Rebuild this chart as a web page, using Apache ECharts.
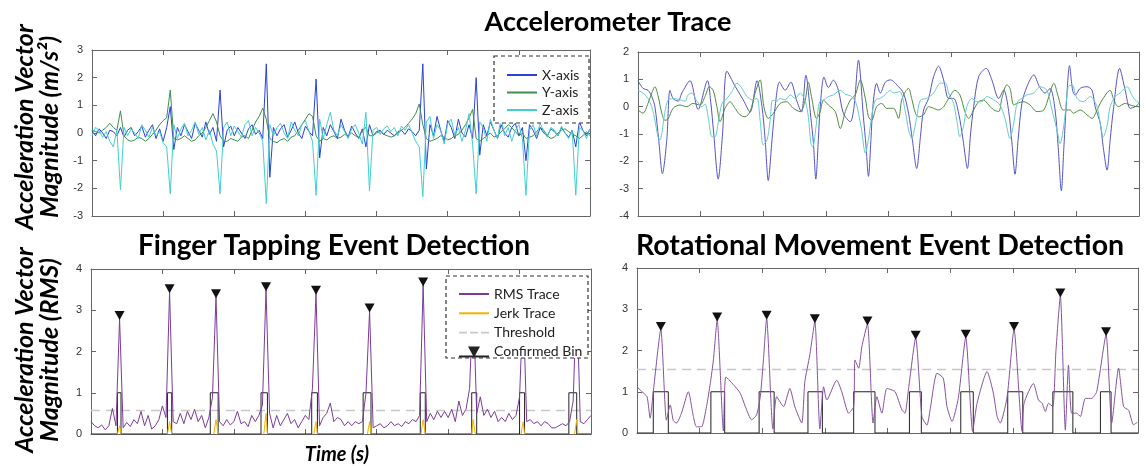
<!DOCTYPE html>
<html>
<head>
  <meta charset="UTF-8">
  <title>Accelerometer Trace</title>
  <script src="https://cdn.jsdelivr.net/npm/echarts@6/dist/echarts.min.js"></script>
  <style>
    html, body { margin: 0; padding: 0; background: #fff; }
    #chart { width: 1146px; height: 466px; }
  </style>
</head>
<body>
<div id="chart"></div>
<script>
  // ---------- top-left: finger tapping raw trace (one sample every 5 time units) ----------
  var tlStep = 5;
  var tlX = [
    0.1, -0.1, 0.15, 0, -0.2, 0.1, 0.05, -0.1, 0.2,
    -0.15, 0.1, 0.2, -0.1, 0.05, 0.25, -0.15, 0.1, 0.3, -0.2, 0.15, -0.3, 0.2,
    0.95, -0.6,
    0.2, -0.1, 0.3, 0.05, -0.2, 0.35, 0.1, -0.15, 0.4, -0.05, 0.2, -0.3,
    1.55, -0.5,
    0.1, 0.25, -0.1, 0.2, 0, -0.2, 0.15, 0.3, -0.05, 0.1, -0.2,
    2.5, -1.6,
    0.2, -0.1, 0.15, 0.3, -0.15, 0.1, 0.4, 0, -0.2, 0.25, 0.05, -0.1,
    1.95, -0.9,
    0.2, -0.1, 0.3, 0.05, -0.2, 0.5, 0.1, -0.15, 0.25, 0, -0.2, 0.15, -0.5,
    0.3,
    -0.1, 0.05, 0.1, -0.05, 0.1, 0, -0.1, 0.05, 0.1, -0.05, 0.15, 0.05, -0.1, 0.1,
    2.5, -1.3,
    0.3, -0.1, 0.6, 0.1, -0.3, 0.45, 0.2, -0.2, 0.5, 0, -0.15, 0.3, -0.2,
    2.0, -0.8,
    0.3, -0.1, 0.4, 0.1, -0.2, 0.3, 0, -0.15, 0.2, 0.35, -0.1, 0.2,
    -1.0,
    0.3, 0.1, -0.2, 0.2, 0, -0.1, 0.15, 0.05, -0.1, 0.2, 0, -0.15, 0.1,
    -0.5,
    0.4, 0.1, -0.1, 0.15
  ];
  var tlY = [
    0.1, 0.05, 0, 0.1, 0.2, 0.35, 0.2, 0.1, 0.8,
    -0.1, -0.25, -0.3, -0.25, -0.15, -0.2, -0.3, -0.2, -0.05, 0.1, 0.3, 0.45, 0.55,
    1.55, -0.2,
    -0.25, -0.2, -0.1, -0.2, -0.3, -0.25, -0.1, 0, 0.2, 0.45, 0.7, 0.4,
    -0.1, -0.3,
    -0.3, -0.2, -0.25, -0.3, -0.15, -0.1, -0.2, 0.1, 0.4, 0.6, 0.9,
    0.5, -0.2,
    -0.3, -0.35, -0.25, -0.2, -0.3, -0.15, -0.1, 0.1, 0.3, 0.5, 0.7, 0.6,
    -0.1, -0.3,
    -0.2, -0.25, -0.15, -0.1, -0.2, -0.15, -0.05, -0.1, 0, -0.1, -0.15, 0.1, 0.2,
    -0.1,
    -0.1, 0, 0.05, -0.05, -0.1, -0.15, -0.1, 0, 0.1, 0.2, 0.35, 0.5, 0.7, 1.05,
    0.3, -0.2,
    -0.3, -0.25, -0.2, -0.1, -0.15, -0.25, -0.2, -0.1, -0.05, 0.1, 0.3, 0.55, 0.85,
    -0.2, -0.3,
    -0.2, -0.1, 0, -0.15, -0.1, 0.05, 0.15, 0.3, 0.2, 0.05, -0.1, 0,
    -0.2,
    -0.15, -0.1, 0.05, 0.2, 0.1, -0.1, -0.2, -0.15, 0, 0.1, 0.15, 0.05, -0.05,
    -0.1,
    -0.2, -0.1, 0.05, -0.1
  ];
  var tlZ = [
    -0.1, 0.2, 0.1, -0.15, 0.05, -0.3, -0.5, 0.1, -2.05,
    0.2, -0.1, 0.15, 0, -0.2, 0.3, 0.1, -0.15, 0.2, -0.1, 0.05, -0.35, -0.5,
    -2.2, 0.3,
    -0.2, 0.15, 0.35, -0.1, 0.1, 0.4, -0.05, 0.2, -0.25, 0.1, -0.4, -0.65,
    -2.2, 0.2,
    0.4, -0.1, 0.25, 0.05, -0.15, 0.3, 0.45, -0.1, 0.2, 0, -0.3,
    -2.55, 0.3,
    -0.1, 0.2, 0.35, 0, -0.2, 0.4, 0.1, -0.1, 0.3, 0.45, 0.05, -0.3,
    -2.25, 0.5,
    -0.2, 0.3, 0.75, 0.1, -0.1, 0.3, 0.05, -0.2, 0.15, 0.3, 0, -0.4, 0.75,
    -2.1,
    0.1, 0.2, -0.05, 0.15, 0.25, 0.05, 0.2, -0.1, 0.25, 0.1, 0.3, 0, -0.3, -0.5,
    -2.3, 0.4,
    0.6, -0.2, 0.3, 0.1, -0.4, 0.35, 0.5, -0.1, 0.2, -0.3, 0.1, 0.7, -0.4,
    -2.2, 0.4,
    0.2, -0.3, 0.5, 0.1, -0.2, 0.55, -0.1, 0.2, -0.3, 0.1, 0.3, -0.2,
    -2.25,
    0.1, 0.3, -0.1, 0.35, 0.05, -0.15, 0.2, 0.1, -0.1, 0.25, 0, -0.2, 0.1,
    -2.25,
    0.2, 0.1, -0.2, 0.15
  ];

  // ---------- top-right: rotational raw trace, [time, value] ----------
  var trX = [
    [0, 0.95], [8, 0.67], [16, 0.6], [22, 0.37], [27, 0], [33, -1.2], [39, -2.45], [46, -1.2], [51, 0.6],
    [56, 0.3], [64, 0.2], [70, 0.5], [83, 0.95], [96, -0.1], [111, 0.95], [116, 0.2], [121, -1.0],
    [128, -2.65], [135, -1.0], [142, 1.3], [155, 0.75], [168, 0.25], [179, -0.2], [190, 0.95], [198, 0],
    [203, -1.2], [208, -2.7], [214, -1.2], [219, 0], [226, 0.9], [235, 0.6], [244, 0.9], [253, 0.25],
    [261, -0.2], [268, 1.15], [276, -0.4], [280, -1.3], [284, -2.65], [288, -1.2], [291, 0], [297, 1.08],
    [304, 0.7], [312, 0.97], [320, 0.6], [328, -0.25], [339, -0.55], [345, 0], [352, 1.7], [360, -0.4],
    [364, -1.4], [368, -2.55], [372, -1.2], [375, 0], [381, 0.85], [387, 0.5], [395, 0.9], [403, 0.98],
    [416, 0.73], [424, 0.49], [432, -0.24], [438, -1.2], [445, -2.26], [451, -1.1], [456, -0.12],
    [464, 0.3], [472, 1.1], [480, 1.48], [488, 0.98], [496, 0.3], [504, 0.3], [512, -0.24], [519, -1.2],
    [526, -2.26], [531, -1.0], [536, 0], [544, 1.1], [556, 1.4], [565, 0.98], [576, 0.3], [584, 0.61],
    [592, -0.18], [597, -1.3], [602, -2.47], [607, -1.2], [613, 0.12], [621, 0.73], [632, 1.16],
    [641, 0.73], [650, 0.5], [658, 0.67], [666, -0.12], [671, -1.5], [676, -3.08], [680, -1.5],
    [685, 0.5], [689, 1.5], [694, 0.6], [698, 0.42], [706, 0.67], [717, 0.73], [725, 0.6], [730, 0],
    [738, -0.6], [743, -1.5], [749, -2.32], [754, -1.2], [759, -0.12], [769, 1.4], [778, 0.6],
    [786, -0.06], [794, 0], [800, 0.12]
  ];
  var trY = [
    [0, -0.12], [8, -0.24], [16, 0.12], [22, 0.5], [27, 0.73], [32, 0.4], [38, -0.24], [43, -0.5],
    [48, -0.45], [56, -0.06], [67, 0.06], [78, 0], [88, 0.12], [99, 0.06], [107, 0.37], [114, 0.73],
    [120, 0.6], [126, 0], [131, -0.55], [139, -0.06], [147, 0.18], [155, -0.06], [163, -0.3],
    [171, -0.37], [179, -0.18], [187, 0.5], [195, 0.98], [201, 0], [208, -0.43], [216, -0.25],
    [227, 0.12], [237, 0.18], [248, -0.06], [259, -0.18], [267, 0.24], [272, 0.9], [277, 0.37],
    [285, -0.43], [291, -0.18], [296, 0.24], [304, 0.06], [315, -0.18], [323, -0.8], [331, -0.18],
    [339, 0.24], [347, 0.43], [355, 0.98], [363, 0.3], [368, -0.37], [373, -0.5], [381, 0], [389, 0.12],
    [397, -0.06], [408, -0.06], [416, -0.43], [421, 0.24], [427, 0.55], [432, 0.67], [437, 0.3],
    [443, -0.24], [448, -0.37], [456, -0.3], [464, 0], [472, -0.06], [480, -0.12], [488, 0], [496, 0.3],
    [506, 0.6], [514, 0.43], [522, -0.18], [528, -0.43], [536, -0.12], [544, 0.18], [552, 0.24],
    [560, 0.06], [568, -0.12], [576, -0.18], [581, 0.3], [589, 0.8], [594, 0.67], [600, 0.06],
    [605, 0.12], [616, 0.18], [626, 0.06], [637, -0.18], [648, -0.12], [656, 0.37], [664, 0.86],
    [671, 0.37], [679, -0.12], [690, -0.12], [695, -0.24], [706, -0.12], [717, -0.3], [725, -0.43],
    [733, -0.12], [741, 0.24], [754, 0.6], [759, 0.3], [767, 0], [778, 0.12], [786, 0.06], [797, 0],
    [800, 0]
  ];
  var trZ = [
    [0, 0.6], [8, 0.5], [16, 0.3], [22, 0], [27, -0.5], [32, -1.1], [35, -1.22], [43, -0.2], [48, 0.24],
    [56, 0.3], [67, 0.25], [75, 0.2], [80, 0.43], [86, 0.5], [94, 0.2], [102, 0], [107, 0.1],
    [112, -0.37], [118, -1.1], [123, -1.1], [128, -0.6], [134, 0.12], [142, 0.3], [150, 0.55],
    [158, 0.86], [166, 0.67], [174, 0.37], [182, 0.25], [190, 0.3], [195, -0.5], [200, -1.4],
    [206, -1.22], [211, -0.5], [215, 0.24], [222, 0.2], [227, 0.3], [235, 0.25], [243, 0.43],
    [251, 0.3], [259, 0.5], [267, 0.2], [272, -0.37], [276, -1.35], [279, -1.47], [285, -0.6],
    [290, 0.18], [297, 0.24], [304, 0.37], [312, 0.43], [323, 0.6], [331, 0.45], [339, 0.4], [347, 0.2],
    [352, -0.24], [357, -0.85], [363, -1.7], [368, -1.2], [373, -0.37], [379, 0.24], [387, 0.3],
    [395, 0.45], [403, 0.6], [408, 0.5], [418, 0.55], [427, -0.2], [432, -0.85], [437, -1.16],
    [445, -0.4], [451, 0.24], [461, 0.3], [472, 0.5], [483, 0.86], [491, 0.86], [496, 0.5], [504, 0.12],
    [509, -0.5], [514, -1.1], [520, -0.7], [525, 0], [533, 0.3], [541, 0.18], [549, 0.18], [557, 0.37],
    [568, 0.25], [578, 0.06], [586, -0.43], [594, -1.16], [600, -0.6], [606, 0.18], [613, 0.3],
    [621, 0.43], [632, 0.5], [642, 0.73], [653, 0.6], [661, -0.12], [669, -0.85], [674, -1.35],
    [681, -0.5], [687, 0.73], [693, 0.8], [701, 0.3], [711, 0.18], [722, 0.37], [733, 0], [738, -0.6],
    [743, -1.1], [749, -0.7], [754, 0], [762, 0.37], [770, 0.5], [781, 0.73], [789, 0.4], [797, 0.18],
    [800, 0.15]
  ];

  // ---------- bottom-left: finger tapping event detection ----------
  var blStep = 5;
  var blRms = [
    0.3, 0.2, 0.15, 0.22, 0.1, 0.2, 0.62, 0.2, 2.8,
    0.15, 0.28, 0.18, 0.35, 0.25, 0.55, 0.2, 0.45, 0.12, 0.2, 0.35, 0.68, 0.4,
    3.45,
    0.3, 0.25, 0.5, 0.25, 0.55, 0.35, 0.6, 0.3, 0.45, 0.15, 0.4, 0.88,
    3.33,
    0.3, 0.2, 0.35, 0.22, 0.3, 0.55, 0.25, 0.3, 0.18, 0.45, 0.3, 0.45, 0.7,
    3.5,
    0.5, 0.15, 0.45, 0.2, 0.35, 0.5, 0.25, 0.35, 0.15, 0.3, 0.45, 0.35, 1.1,
    3.41,
    0.2, 0.4, 0.5, 0.75, 0.3, 0.4, 0.35, 0.2, 0.3, 0.2, 0.3, 0.25, 0.3, 1.0,
    2.98,
    0.15, 0.2, 0.25, 0.15, 0.2, 0.3, 0.2, 0.25, 0.18, 0.3, 0.25, 0.35, 0.3, 0.45,
    3.61,
    0.3, 0.5, 0.35, 0.55, 0.4, 0.55, 0.4, 0.6, 0.3, 0.8, 0.45, 0.6, 1.1,
    3.3,
    0.5, 0.9, 0.45, 0.6, 0.4, 0.55, 0.3, 0.4, 0.3, 0.5, 0.35, 0.45, 0.9,
    3.2,
    0.3, 0.35, 0.25, 0.3, 0.2, 0.3, 0.25, 0.15, 0.15, 0.2, 0.25, 0.2, 0.3, 0.8,
    3.4,
    0.3, 0.25, 0.35, 0.45
  ];
  var blJerk = [
    [37, 0], [40, 0.2], [42, 0], [42, '-'],
    [107, 0], [110, 0.3], [113, 0], [113, '-'],
    [172, 0], [175, 0.35], [178, 0], [178, '-'],
    [242, 0], [245, 0.5], [247, 0], [247, '-'],
    [312, 0], [315, 0.3], [317, 0], [317, '-'],
    [387, 0], [390, 0.3], [392, 0], [392, '-'],
    [462, 0], [465, 0.35], [468, 0], [468, '-'],
    [533, 0], [535, 0.35], [538, 0], [538, '-'],
    [602, 0], [605, 0.3], [607, 0], [607, '-'],
    [677, 0], [680, 0.35], [682, 0]
  ];
  var blThreshold = 0.57;
  var blBinStart = [37, 107, 167, 238, 309, 381, 461, 533, 600, 669];
  var blBinEnd   = [42, 113, 178, 247, 317, 392, 468, 540, 607, 680];
  var blPeakT = [40, 110, 175, 245, 315, 390, 465, 535, 605, 680];
  var blPeakV = [2.8, 3.45, 3.33, 3.5, 3.41, 2.98, 3.61, 3.3, 3.2, 3.4];

  // ---------- bottom-right: rotational movement event detection ----------
  var brRms = [
    [0, 1.12], [8, 1.0], [16, 0.88], [21, 0.36], [26, 1.0], [38, 2.51], [47, 0.31], [53, 0.68], [58, 0.3],
    [63, 0.24], [71, 0.48], [82, 1.0], [90, 0.4], [95, 0.15], [103, 0.15], [111, 0.64], [117, 1.2],
    [122, 1.77], [128, 2.74], [138, 0.05], [142, 1.36], [157, 1.12], [165, 0.96], [173, 0.64],
    [183, 0.32], [191, 0.44], [197, 0.9], [202, 1.8], [207, 2.78], [217, 0.1], [223, 0.88], [234, 0.64],
    [244, 1.08], [252, 0.64], [263, 0.24], [268, 1.24], [276, 1.9], [284, 2.7], [292, 0.1], [298, 1.12],
    [303, 0.8], [319, 1.28], [327, 1.0], [338, 0.48], [346, 0.64], [348, 1.77], [354, 1.57], [359, 2.09],
    [368, 2.64], [377, 0.24], [383, 0.88], [391, 0.48], [399, 1.08], [412, 1.0], [423, 0.56], [428, 0.48],
    [433, 1.0], [445, 2.3], [455, 0.4], [463, 0.19], [468, 0.56], [479, 1.45], [489, 1.33], [495, 0.64],
    [503, 0.28], [513, 0.84], [525, 2.32], [536, 0.04], [543, 0.72], [559, 1.49], [569, 0.97], [575, 0.4],
    [580, 0.24], [591, 0.88], [602, 2.51], [615, 0.04], [618, 0.72], [633, 1.2], [641, 0.8], [647, 0.72],
    [652, 0.52], [657, 0.72], [664, 0.64], [669, 2.0], [676, 3.32], [684, 0.07], [689, 1.65], [694, 0.48],
    [702, 0.48], [708, 0.4], [716, 0.84], [726, 0.84], [734, 1.0], [749, 2.38], [758, 0.24], [769, 1.57],
    [777, 0.64], [785, 0.55], [793, 0.2], [799, 0.26]
  ];
  var brThreshold = 1.54;
  var brBinStart = [26, 118, 195, 273, 346, 435, 517, 592, 664, 740];
  var brBinEnd   = [50, 140, 219, 296, 380, 454, 537, 616, 696, 757];
  var brPeakT = [38, 128, 207, 284, 368, 445, 525, 602, 676, 749];
  var brPeakV = [2.51, 2.74, 2.78, 2.7, 2.64, 2.3, 2.32, 2.51, 3.32, 2.38];

  // ---------- helpers ----------
  function onGrid(values, step) {
    return values.map(function (v, i) { return [i * step, v]; });
  }
  function binOutline(starts, ends, xmax) {
    var d = [[0, 0]];
    for (var i = 0; i < starts.length; i++) {
      d.push([starts[i], 0], [starts[i], 1], [ends[i], 1], [ends[i], 0]);
    }
    d.push([xmax, 0]);
    return d;
  }
  function zip(a, b) {
    return a.map(function (v, i) { return [v, b[i]]; });
  }

  var xAxes = [], yAxes = [];
  function addAxes(g, xmax, ymin, ymax) {
    var line = { onZero: false, lineStyle: { color: '#666', width: 1 } };
    var tick = { inside: true, length: 5, lineStyle: { color: '#666' } };
    ['bottom', 'top'].forEach(function (p) {
      xAxes.push({
        gridIndex: g, type: 'value', position: p, min: 0, max: xmax, interval: 100,
        axisLine: line, axisTick: tick, axisLabel: { show: false }, splitLine: { show: false }
      });
    });
    ['left', 'right'].forEach(function (p) {
      yAxes.push({
        gridIndex: g, type: 'value', position: p, min: ymin, max: ymax, interval: 1,
        axisLine: line, axisTick: tick, splitLine: { show: false },
        axisLabel: { show: p === 'left', fontSize: 11, color: '#333', fontFamily: 'Liberation Sans', margin: 9 }
      });
    });
  }
  addAxes(0, 700, -3, 3);
  addAxes(1, 800, -4, 2);
  addAxes(2, 700, 0, 4);
  addAxes(3, 800, 0, 4);

  function trace(name, data, g, color, extra) {
    var s = {
      name: name, type: 'line', data: data, xAxisIndex: 2 * g, yAxisIndex: 2 * g,
      symbol: 'none', silent: true, lineStyle: { color: color, width: 1 }, itemStyle: { color: color }
    };
    for (var k in extra) s[k] = extra[k];
    return s;
  }
  function peaks(data, g) {
    return {
      type: 'scatter', data: data, xAxisIndex: 2 * g, yAxisIndex: 2 * g, silent: true,
      symbol: 'triangle', symbolRotate: 180, symbolSize: [10, 9], symbolOffset: [0, -3],
      itemStyle: { color: '#111', opacity: 1 }, z: 4
    };
  }

  var thrStyle = { color: '#c8c8c8', width: 1.5, type: [9, 6] };

  var series = [
    trace('X-axis', onGrid(tlX, tlStep), 0, '#2a42d2'),
    trace('Y-axis', onGrid(tlY, tlStep), 0, '#3c8f4c'),
    trace('Z-axis', onGrid(tlZ, tlStep), 0, '#42cfcf'),

    trace('X-axis', trX, 1, '#5553c6', { smooth: 0.3 }),
    trace('Y-axis', trY, 1, '#4f8c40', { smooth: 0.3 }),
    trace('Z-axis', trZ, 1, '#66cccc', { smooth: 0.3 }),

    trace('Threshold', [[0, blThreshold], [700, blThreshold]], 2, '#c8c8c8', { lineStyle: thrStyle }),
    trace('Confirmed Bin', binOutline(blBinStart, blBinEnd, 700), 2, '#222'),
    trace('RMS Trace', onGrid(blRms, blStep), 2, '#7b3c98'),
    trace('Jerk Trace', blJerk, 2, '#f2b400', { z: 3 }),
    peaks(zip(blPeakT, blPeakV), 2),

    trace('Threshold', [[0, brThreshold], [800, brThreshold]], 3, '#c8c8c8', { lineStyle: thrStyle }),
    trace('Confirmed Bin', binOutline(brBinStart, brBinEnd, 800), 3, '#222'),
    trace('RMS Trace', brRms, 3, '#86529e', { smooth: 0.2 }),
    peaks(zip(brPeakT, brPeakV), 3)
  ];

  var axisTitleFont = 'italic bold 25px Lato';
  function text(str, x, y, font, rot) {
    return {
      type: 'text', x: x, y: y, rotation: rot || 0, silent: true, z: 70,
      style: { text: str, font: font, fill: '#000', align: 'center', verticalAlign: 'middle' }
    };
  }
  function dashedBox(x, y, w, h) {
    return {
      type: 'rect', silent: true, z: 50, shape: { x: x, y: y, width: w, height: h },
      style: { fill: '#fff', stroke: '#333', lineWidth: 1.2, lineDash: [4, 3] }
    };
  }

  var solidIcon = 'path://M0,0H30V2H0Z';
  var dashIcon = 'path://M0,0H8V1.6H0Z M11,0H19V1.6H11Z M22,0H30V1.6H22Z';
  var binIcon = 'path://M0,9H30V11H0Z M9,0H21L15,11Z';
  var legendText = { fontFamily: 'Lato', color: '#222' };
  var option = {
    animation: false,
    backgroundColor: '#fff',
    grid: [
      { left: 92, top: 50, width: 498, height: 166 },
      { left: 638, top: 52, width: 501, height: 164 },
      { left: 91, top: 269, width: 500, height: 165 },
      { left: 637, top: 268, width: 501, height: 165 }
    ],
    xAxis: xAxes,
    yAxis: yAxes,
    legend: [
      {
        data: [
          { name: 'X-axis', icon: solidIcon },
          { name: 'Y-axis', icon: solidIcon },
          { name: 'Z-axis', icon: solidIcon }
        ],
        orient: 'vertical', left: 502, top: 63,
        itemWidth: 30, itemHeight: 14, itemGap: 3.5, selectedMode: false, z: 60,
        textStyle: Object.assign({ fontSize: 14 }, legendText)
      },
      {
        data: [
          { name: 'RMS Trace', icon: solidIcon },
          { name: 'Jerk Trace', icon: solidIcon },
          { name: 'Threshold', icon: dashIcon },
          { name: 'Confirmed Bin', icon: binIcon }
        ],
        orient: 'vertical', left: 454, top: 282,
        itemWidth: 30, itemHeight: 14, itemGap: 5.3, selectedMode: false, z: 60,
        textStyle: Object.assign({ fontSize: 14 }, legendText)
      }
    ],
    graphic: [
      dashedBox(494, 56, 95, 67),
      dashedBox(446, 276, 142, 82),
      text('Accelerometer Trace', 608, 22, 'bold 27px Lato'),
      text('Finger Tapping Event Detection', 334, 246, 'bold 28px Lato'),
      text('Rotational Movement Event Detection', 880, 246, 'bold 28.5px Lato'),
      text('Acceleration Vector', 25, 127, axisTitleFont, Math.PI / 2),
      text('Magnitude (m/s²)', 50, 127, axisTitleFont, Math.PI / 2),
      text('Acceleration Vector', 25, 350, axisTitleFont, Math.PI / 2),
      text('Magnitude (RMS)', 50, 350, axisTitleFont, Math.PI / 2),
      text('Time (s)', 337, 455, 'italic bold 20px Lato')
    ],
    series: series
  };

  var chart = echarts.init(document.getElementById('chart'), null, { renderer: 'canvas' });
  chart.setOption(option);
</script>
</body>
</html>
